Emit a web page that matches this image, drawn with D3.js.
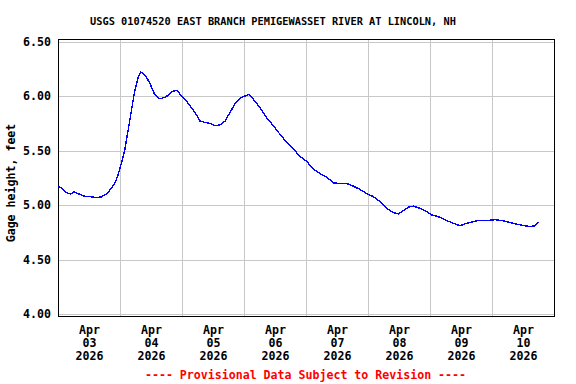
<!DOCTYPE html>
<html>
<head>
<meta charset="utf-8">
<script src="https://cdn.jsdelivr.net/npm/d3@7"></script>
<style>
    body { margin: 0; background: #fff; }
    svg { display: block; }
    .lbl { font-family: "DejaVu Sans Mono", monospace; font-weight: bold; fill: #000; }
</style>
</head>
<body>
<svg id="chart"></svg>
<script>
// Hours after Apr 03 2026 00:00 for each traced reading
const hoursSinceStart = [
    0, 1.4, 3.0, 4.6, 5.9, 7.5, 10.1, 12.7, 14.6, 16.6, 18.5, 20.4, 21.8, 23.0,
    24.3, 25.6, 26.9, 28.2, 29.5, 30.8, 31.8, 33.6, 35.3, 37.2, 39.2, 40.8, 42.4,
    44.3, 46.0, 47.5, 49.5, 50.9, 52.8, 54.8, 56.7, 58.6, 60.6, 62.5, 64.5, 66.4,
    68.4, 70.3, 72.2, 73.9, 75.4, 78.0, 80.6, 83.2, 85.7, 88.3, 90.9, 93.5, 96.1,
    98.6, 101.2, 103.8, 106.4, 109.0, 111.6, 114.1, 116.7, 119.3, 121.9, 124.5,
    127.0, 129.6, 131.5, 133.5, 135.4, 137.3, 139.9, 141.9, 144.5, 147.7, 150.3,
    152.8, 155.4, 157.3, 159.3, 161.9, 164.4, 167.0, 169.0, 171.6, 174.1, 177.4,
    179.9, 182.5, 184.4, 185.3, 186.1
];

// Gage height, feet
const gageHeight = [
    5.17, 5.155, 5.115, 5.10, 5.12, 5.105, 5.08, 5.075, 5.067, 5.075, 5.10, 5.15, 5.20, 5.27,
    5.38, 5.50, 5.68, 5.86, 6.045, 6.17, 6.22, 6.19, 6.12, 6.015, 5.975, 5.985, 6.005,
    6.045, 6.05, 6.00, 5.955, 5.91, 5.85, 5.77, 5.757, 5.748, 5.727, 5.736, 5.77, 5.85,
    5.93, 5.98, 6.00, 6.015, 5.97, 5.894, 5.80, 5.727, 5.65, 5.576, 5.515, 5.445, 5.40,
    5.33, 5.288, 5.257, 5.203, 5.197, 5.197, 5.173, 5.143, 5.106, 5.076, 5.03,
    4.97, 4.93, 4.918, 4.948, 4.979, 4.99, 4.97, 4.948, 4.909, 4.888, 4.857,
    4.833, 4.809, 4.827, 4.839, 4.855, 4.857, 4.86, 4.866, 4.857, 4.843, 4.824,
    4.812, 4.803, 4.809, 4.833, 4.843
];

// Axis ticks and labels
const yTicks = [4.0, 4.5, 5.0, 5.5, 6.0, 6.5];
const dayLabels = ['03', '04', '05', '06', '07', '08', '09', '10'];
const monthLabel = 'Apr';
const yearLabel = '2026';

const chartTitle = 'USGS 01074520 EAST BRANCH PEMIGEWASSET RIVER AT LINCOLN, NH';
const yAxisTitle = 'Gage height, feet';
const footerText = '---- Provisional Data Subject to Revision ----';

class GageChart {
    constructor(_config) {
        this.config = {
            parentElement: _config.parentElement,
            containerWidth: _config.containerWidth || 576,
            containerHeight: _config.containerHeight || 384,
        };
        this.initVis();
    }

    initVis() {
        let vis = this;

        vis.svg = d3.select(vis.config.parentElement)
            .attr('width', vis.config.containerWidth)
            .attr('height', vis.config.containerHeight);

        vis.start = new Date(2026, 3, 3);
        vis.end = new Date(2026, 3, 11);

        // Build readings from the arrays
        vis.data = hoursSinceStart.map((h, i) => ({
            time: new Date(vis.start.getTime() + h * 3600 * 1000),
            value: gageHeight[i]
        }));

        vis.xScale = d3.scaleTime()
            .domain([vis.start, vis.end])
            .range([58.5, 554.5]);
        vis.yScale = d3.scaleLinear()
            .domain([4, 6.5])
            .range([314, 41.5]);

        vis.renderVis();
    }

    renderVis() {
        let vis = this;
        const x0 = 58.5, x1 = 554.5, y0 = 39.5, y1 = 316.5;

        // Horizontal gridlines
        vis.svg.append('g')
            .selectAll('line')
            .data(yTicks)
            .join('line')
                .attr('x1', x0).attr('x2', x1)
                .attr('y1', d => Math.round(vis.yScale(d)) + 0.5)
                .attr('y2', d => Math.round(vis.yScale(d)) + 0.5)
                .attr('stroke', '#c8c8c8')
                .attr('shape-rendering', 'crispEdges');

        // Vertical gridlines at midnight
        const days = d3.timeDay.range(vis.start, vis.end).slice(1);
        vis.svg.append('g')
            .selectAll('line')
            .data(days)
            .join('line')
                .attr('x1', d => vis.xScale(d)).attr('x2', d => vis.xScale(d))
                .attr('y1', y0).attr('y2', y1)
                .attr('stroke', '#c8c8c8')
                .attr('shape-rendering', 'crispEdges');

        // Frame
        vis.svg.append('rect')
            .attr('x', x0).attr('y', y0)
            .attr('width', x1 - x0).attr('height', y1 - y0)
            .attr('fill', 'none')
            .attr('stroke', '#000')
            .attr('shape-rendering', 'crispEdges');

        // Data line
        const line = d3.line()
            .x(d => vis.xScale(d.time))
            .y(d => vis.yScale(d.value));
        vis.svg.append('path')
            .datum(vis.data)
            .attr('d', line)
            .attr('fill', 'none')
            .attr('stroke', '#0000ff')
            .attr('stroke-width', 1.4)
            .attr('shape-rendering', 'crispEdges');

        // Y tick labels
        vis.svg.append('g')
            .selectAll('text')
            .data(yTicks)
            .join('text')
                .attr('class', 'lbl')
                .attr('x', 51)
                .attr('y', d => vis.yScale(d) + 4)
                .attr('text-anchor', 'end')
                .style('font-size', '11.6px')
                .text(d => d.toFixed(2));

        // X tick labels at noon of each day
        const noons = d3.timeDay.range(vis.start, vis.end).map(d => d3.timeHour.offset(d, 12));
        const xLabels = vis.svg.append('g')
            .selectAll('text')
            .data(noons)
            .join('text')
                .attr('class', 'lbl')
                .attr('text-anchor', 'middle')
                .style('font-size', '11.6px');
        xLabels.append('tspan')
            .attr('x', d => vis.xScale(d)).attr('y', 334)
            .text(monthLabel);
        xLabels.append('tspan')
            .attr('x', d => vis.xScale(d)).attr('y', 347)
            .text((d, i) => dayLabels[i]);
        xLabels.append('tspan')
            .attr('x', d => vis.xScale(d)).attr('y', 360)
            .text(yearLabel);

        // Title
        vis.svg.append('text')
            .attr('class', 'lbl')
            .attr('x', 273)
            .attr('y', 25)
            .attr('text-anchor', 'middle')
            .style('font-size', '10.3px')
            .text(chartTitle);

        // Y axis title
        vis.svg.append('text')
            .attr('class', 'lbl')
            .attr('transform', 'translate(15,183) rotate(-90)')
            .attr('text-anchor', 'middle')
            .style('font-size', '11.6px')
            .text(yAxisTitle);

        // Provisional footer
        vis.svg.append('text')
            .attr('class', 'lbl')
            .attr('x', 305.5)
            .attr('y', 379)
            .attr('text-anchor', 'middle')
            .style('font-size', '11.6px')
            .style('fill', '#ff0000')
            .text(footerText);
    }
}

new GageChart({ parentElement: '#chart' });
</script>
</body>
</html>
